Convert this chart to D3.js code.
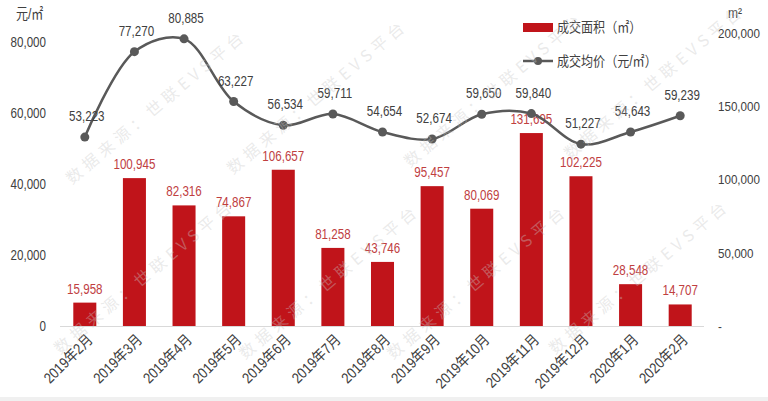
<!DOCTYPE html>
<html><head><meta charset="utf-8">
<script src="https://cdn.jsdelivr.net/npm/d3@7"></script>
<style>
html,body{margin:0;padding:0;background:#fff;}
svg{display:block;font-family:"Liberation Sans","Noto Sans CJK SC",sans-serif;}
</style></head>
<body><svg id="c" width="768" height="401"></svg>
<script>
const months = ["2019年2月","2019年3月","2019年4月","2019年5月","2019年6月","2019年7月","2019年8月","2019年9月","2019年10月","2019年11月","2019年12月","2020年1月","2020年2月"];
// bar heights as drawn in the picture (the July bar is drawn shorter than its printed label)
const area = [15958,100945,82316,74867,106657,53300,43746,95457,80069,131695,102225,28548,14707];
// numbers printed above the bars
const areaLabels = [15958,100945,82316,74867,106657,81258,43746,95457,80069,131695,102225,28548,14707];
const price = [53223,77270,80885,63227,56534,59711,54654,52674,59650,59840,51227,54643,59239];
const leftTicks = [0,20000,40000,60000,80000];
const rightTicks = [0,50000,100000,150000,200000];
const leftUnit = "元/㎡";
const rightUnit = "m²";
const legendArea = "成交面积（㎡）";
const legendPrice = "成交均价（元/㎡）";
const watermark = "数据来源：世联EVS平台";

const svg = d3.select("#c");
const fmt = d3.format(",");
const barColor = "#c0141a", labelRed = "#c0403f", lineColor = "#595959", textColor = "#404040";

const x = d3.scaleBand().domain(months).range([60,705]).paddingInner(0.536).paddingOuter(0.268);
const yL = d3.scaleLinear().domain([0,80000]).range([326,42]);
const yR = d3.scaleLinear().domain([0,200000]).range([326,33]);

svg.append("rect").attr("x",0).attr("y",397).attr("width",768).attr("height",4).attr("fill","#f0f0f0");

// baseline
svg.append("line").attr("x1",60).attr("x2",704).attr("y1",yL(0)+0.5).attr("y2",yL(0)+0.5)
  .attr("stroke","#d9d9d9").attr("stroke-width",1);

// left axis
const gL = svg.append("g").attr("transform","translate(60,0)")
  .call(d3.axisLeft(yL).tickValues(leftTicks).tickFormat(fmt).tickSize(0).tickPadding(14));
gL.select(".domain").remove();
gL.selectAll("text").attr("class","nar").attr("font-size",14.5).attr("fill",textColor).attr("font-family",null);

// right axis
const gR = svg.append("g").attr("transform","translate(718,0)")
  .call(d3.axisRight(yR).tickValues(rightTicks).tickFormat(d => d === 0 ? "-" : fmt(d)).tickSize(0).tickPadding(0));
gR.select(".domain").remove();
gR.selectAll("text").attr("class","rn").attr("font-size",13.5).attr("fill",textColor).attr("font-family",null);

// units
svg.append("text").attr("class","nar").attr("x",16).attr("y",19).attr("font-size",15).attr("fill",textColor).text(leftUnit);
svg.append("text").attr("class","nar").attr("x",728).attr("y",18).attr("font-size",15).attr("fill",textColor).text(rightUnit);

const wmStarts = [[72,185],[233,175],[410,168],[570,160],[60,355],[245,360],[393,360],[555,355]];

// bars
svg.append("g").selectAll("rect").data(area).join("rect")
  .attr("x",(d,i)=>x(months[i])).attr("width",x.bandwidth())
  .attr("y",d=>yR(d)).attr("height",d=>yR(0)-yR(d)).attr("fill",barColor);
svg.append("g").selectAll("text").data(areaLabels).join("text").attr("class","nar")
  .attr("x",(d,i)=>x(months[i])+x.bandwidth()/2).attr("y",(d,i)=>yR(area[i])-9)
  .attr("text-anchor","middle").attr("font-size",14.5).attr("fill",labelRed).text(d=>fmt(d));

// line
const cx = i => x(months[i]) + x.bandwidth()/2;
const line = d3.line().x((d,i)=>cx(i)).y(d=>yL(d)).curve(d3.curveCatmullRom.alpha(0.5));
svg.append("path").datum(price).attr("d",line).attr("fill","none").attr("stroke",lineColor).attr("stroke-width",2.5);
svg.append("g").selectAll("circle").data(price).join("circle")
  .attr("cx",(d,i)=>cx(i)).attr("cy",d=>yL(d)).attr("r",4.5).attr("fill",lineColor);
svg.append("g").selectAll("text").data(price).join("text").attr("class","nar")
  .attr("x",(d,i)=>cx(i)+2).attr("y",d=>yL(d)-16)
  .attr("text-anchor","middle").attr("font-size",14.5).attr("fill",textColor).text(d=>fmt(d));

// x labels
svg.append("g").selectAll("text").data(months).join("text").attr("class","xl")
  .attr("transform",(d,i)=>`translate(${cx(i)+5},${337}) rotate(-45)`)
  .attr("text-anchor","end").attr("dy","0.35em").attr("font-size",15).attr("fill",textColor).text(d=>d);

// legend
const lg = svg.append("g");
lg.append("rect").attr("x",523).attr("y",23).attr("width",30).attr("height",9).attr("fill",barColor);
lg.append("text").attr("class","xl").attr("x",557).attr("y",27).attr("dy","0.35em").attr("font-size",14).attr("fill",textColor).text(legendArea);
lg.append("line").attr("x1",523).attr("x2",553).attr("y1",61).attr("y2",61).attr("stroke",lineColor).attr("stroke-width",2.5);
lg.append("circle").attr("cx",538).attr("cy",61).attr("r",4).attr("fill",lineColor);
lg.append("text").attr("class","xl").attr("x",557).attr("y",61).attr("dy","0.35em").attr("font-size",14).attr("fill",textColor).text(legendPrice);

// watermarks
svg.append("g").selectAll("text").data(wmStarts).join("text")
  .attr("transform",d=>`translate(${d[0]},${d[1]}) rotate(-40)`)
  .attr("font-size",16).attr("textLength",225).attr("lengthAdjust","spacing")
  .attr("font-family","Noto Sans CJK SC, sans-serif")
  .attr("fill","#c8c8c8").attr("fill-opacity",0.38).text(watermark);

// the reference typeface is a narrow one: compress text horizontally
function squeeze(sel, k){
  sel.each(function(){
    const L = this.getComputedTextLength();
    this.setAttribute("textLength", (L*k).toFixed(2));
    this.setAttribute("lengthAdjust","spacingAndGlyphs");
  });
}
squeeze(svg.selectAll("text.nar"), 0.8);
squeeze(svg.selectAll("text.rn"), 0.86);
squeeze(svg.selectAll("text.xl"), 0.86);
</script></body></html>
